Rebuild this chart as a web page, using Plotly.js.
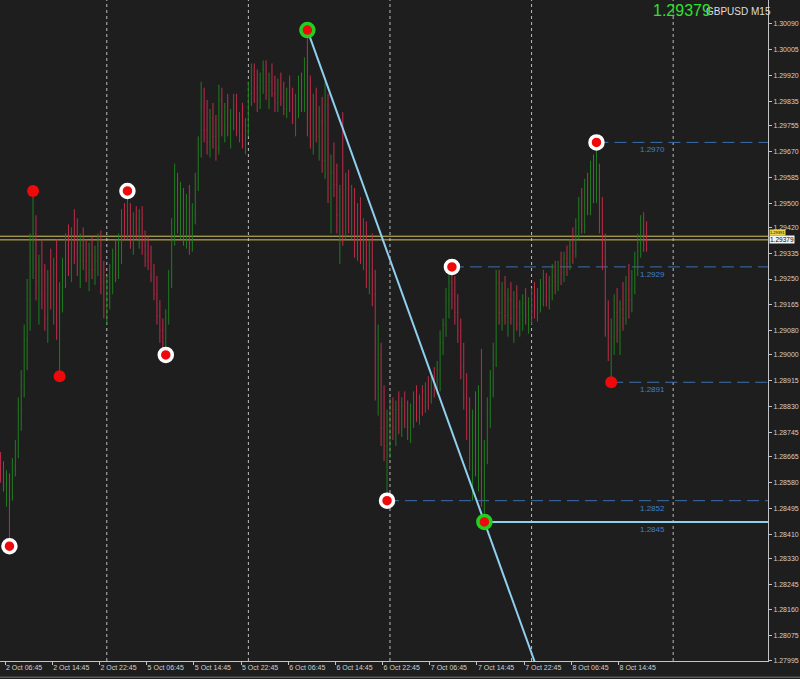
<!DOCTYPE html>
<html>
<head>
<meta charset="utf-8">
<script src="https://cdn.plot.ly/plotly-3.0.1.min.js"></script>
<style>
html,body{margin:0;padding:0;background:#1e1e1e;}
#chart{width:800px;height:679px;}
</style>
</head>
<body>
<div id="chart"></div>
<script>
// ---------------- DATA ----------------
const SYMBOL = 'GBPUSD M15';
// candles are 30-minute groups of M15 bars; bar 0 = 2 Oct 06:45
const FIRST_BAR = -3;
const BARS_PER_CANDLE = 2;

const opens = [
1.2864,1.2861,1.2857,1.2859,1.2854,1.2863,1.2870,1.2882,1.2890,1.2905,1.2918,1.2932,
1.2940,1.2924,1.2928,1.2920,1.2912,1.2925,1.2918,1.2928,1.2910,
1.2918,1.2928,1.2935,1.2930,1.2938,1.2934,1.2929,1.2936,1.2931,1.2927,1.2933,1.2928,1.2931,1.2936,1.2924,1.2916,
1.2922,1.2927,1.2932,1.2928,1.2937,1.2945,1.2942,
1.2946,1.2939,1.2944,1.2941,1.2945,1.2936,1.2933,1.2931,1.2926,1.2920,1.2913,1.2908,1.2904,
1.2912,1.2926,1.2940,1.2950,1.2945,1.2950,1.2940,1.2948,1.2937,1.2946,
1.2957,1.2968,1.2982,1.2974,1.2970,1.2978,1.2972,1.2968,1.2984,1.2976,1.2980,1.2975,1.2979,1.2982,1.2974,1.2977,1.2971,1.2974,
1.2986,1.2992,1.2988,1.2984,1.2990,1.2994,1.2987,1.2990,1.2986,1.2983,1.2989,1.2985,1.2981,1.2986,1.2982,1.2979,1.2984,1.2989,1.2983,1.2995,
1.2978,1.2974,1.2980,1.2972,1.2977,1.2964,1.2982,1.2955,1.2960,1.2956,1.2946,1.2952,1.2942,1.2955,1.2945,1.2950,1.2936,1.2946,1.2934,1.2940,1.2925,1.2933,1.2920,1.2892,1.2900,1.2876,1.2870,
1.2878,1.2882,1.2876,1.2882,1.2878,1.2883,1.2879,1.2876,1.2881,1.2884,1.2880,1.2885,1.2883,1.2888,1.2886,1.2891,1.2889,1.2895,1.2904,1.2910,1.2918,1.2924,
1.2920,1.2914,1.2908,1.2896,1.2886,1.2878,1.2868,1.2876,1.2865,1.2884,1.2858,
1.2868,1.2880,1.2892,1.2900,1.2924,1.2914,1.2920,1.2913,1.2918,1.2912,1.2916,1.2910,1.2914,1.2917,1.2913,1.2916,
1.2919,1.2916,1.2919,1.2921,1.2924,1.2919,1.2923,1.2926,1.2924,1.2929,1.2927,1.2932,1.2930,1.2936,1.2934,1.2942,1.2947,1.2943,1.2954,1.2950,1.2960,1.2956,
1.2958,1.2946,1.2932,1.2910,1.2902,1.2906,1.2914,1.2908,1.2915,1.2912,1.2922,1.2918,1.2925,1.2931,1.2937,1.2942,1.2940
];
const highs = [
1.2868,1.2865,1.2862,1.2861,1.2866,1.2872,1.2886,1.2895,1.2910,1.2925,1.2940,1.2954,
1.2946,1.2933,1.2938,1.2930,1.2928,1.2935,1.2932,1.2938,1.2924,
1.2932,1.2940,1.2943,1.2942,1.2948,1.2945,1.2940,1.2942,1.2938,1.2937,1.2939,1.2936,1.2940,1.2941,1.2931,1.2926,
1.2930,1.2935,1.2938,1.2940,1.2948,1.2950,1.2954,
1.2950,1.2947,1.2949,1.2948,1.2949,1.2941,1.2939,1.2936,1.2930,1.2926,1.2918,1.2912,1.2915,
1.2928,1.2945,1.2963,1.2960,1.2957,1.2955,1.2953,1.2956,1.2950,1.2960,
1.2972,1.2990,1.2988,1.2984,1.2981,1.2983,1.2979,1.2989,1.2988,1.2983,1.2986,1.2981,1.2986,1.2986,1.2980,1.2983,1.2978,1.2990,
1.2996,1.2996,1.2994,1.2993,1.2997,1.2997,1.2993,1.2996,1.2992,1.2991,1.2993,1.2990,1.2988,1.2992,1.2988,1.2986,1.2992,1.2993,1.2998,1.3007,
1.2992,1.2986,1.2988,1.2982,1.2985,1.2990,1.2986,1.2966,1.2970,1.2963,1.2956,1.2980,1.2960,1.2961,1.2956,1.2955,1.2950,1.2952,1.2945,1.2944,1.2938,1.2940,1.2928,1.2910,1.2904,1.2890,1.2882,
1.2886,1.2886,1.2885,1.2888,1.2886,1.2888,1.2885,1.2884,1.2888,1.2890,1.2887,1.2890,1.2891,1.2893,1.2894,1.2896,1.2898,1.2908,1.2912,1.2922,1.2927,1.2929,
1.2926,1.2920,1.2912,1.2904,1.2894,1.2886,1.2882,1.2888,1.2890,1.2902,1.2872,
1.2886,1.2895,1.2904,1.2928,1.2928,1.2924,1.2926,1.2922,1.2924,1.2921,1.2923,1.2918,1.2920,1.2922,1.2919,1.2922,
1.2924,1.2922,1.2925,1.2928,1.2927,1.2926,1.2930,1.2931,1.2931,1.2934,1.2934,1.2936,1.2938,1.2942,1.2945,1.2952,1.2955,1.2958,1.2960,1.2964,1.2966,1.2970,
1.2963,1.2952,1.2940,1.2918,1.2912,1.2920,1.2922,1.2918,1.2924,1.2926,1.2930,1.2928,1.2934,1.2940,1.2946,1.2947,1.2944
];
const lows = [
1.2858,1.2855,1.2850,1.2837,1.2852,1.2860,1.2866,1.2875,1.2886,1.2895,1.2908,1.2925,
1.2918,1.2910,1.2915,1.2908,1.2904,1.2915,1.2910,1.2905,1.2893,
1.2914,1.2922,1.2926,1.2924,1.2930,1.2926,1.2922,1.2928,1.2924,1.2921,1.2925,1.2923,1.2926,1.2920,1.2912,1.2910,
1.2915,1.2920,1.2924,1.2925,1.2930,1.2938,1.2938,
1.2935,1.2933,1.2938,1.2935,1.2933,1.2929,1.2928,1.2924,1.2918,1.2910,1.2904,1.2900,1.2900,
1.2910,1.2922,1.2936,1.2940,1.2938,1.2936,1.2935,1.2933,1.2934,1.2943,
1.2954,1.2965,1.2970,1.2966,1.2965,1.2968,1.2964,1.2966,1.2972,1.2970,1.2972,1.2968,1.2974,1.2972,1.2970,1.2968,1.2966,1.2972,
1.2982,1.2983,1.2980,1.2981,1.2986,1.2984,1.2981,1.2985,1.2980,1.2980,1.2982,1.2979,1.2978,1.2980,1.2976,1.2972,1.2978,1.2980,1.2980,1.2972,
1.2968,1.2966,1.2970,1.2964,1.2960,1.2958,1.2950,1.2940,1.2952,1.2940,1.2930,1.2936,1.2938,1.2940,1.2938,1.2932,1.2931,1.2930,1.2928,1.2922,1.2920,1.2916,1.2885,1.2880,1.2870,1.2865,1.2852,
1.2866,1.2872,1.2870,1.2874,1.2873,1.2876,1.2872,1.2871,1.2876,1.2878,1.2877,1.2880,1.2881,1.2882,1.2884,1.2886,1.2887,1.2888,1.2900,1.2906,1.2912,1.2915,
1.2910,1.2904,1.2892,1.2882,1.2872,1.2862,1.2852,1.2860,1.2855,1.2850,1.2845,
1.2864,1.2876,1.2886,1.2896,1.2910,1.2908,1.2910,1.2906,1.2910,1.2904,1.2908,1.2906,1.2908,1.2910,1.2907,1.2910,
1.2912,1.2911,1.2914,1.2916,1.2916,1.2915,1.2918,1.2920,1.2921,1.2923,1.2924,1.2926,1.2928,1.2930,1.2932,1.2938,1.2940,1.2940,1.2946,1.2946,1.2950,1.2950,
1.2940,1.2928,1.2906,1.2898,1.2891,1.2900,1.2904,1.2900,1.2908,1.2910,1.2912,1.2914,1.2920,1.2926,1.2932,1.2934,1.2934
];
const closes = [
1.2861,1.2857,1.2859,1.2854,1.2863,1.2870,1.2882,1.2890,1.2905,1.2918,1.2932,1.2940,
1.2924,1.2928,1.2920,1.2912,1.2925,1.2918,1.2928,1.2910,1.2918,
1.2928,1.2935,1.2930,1.2938,1.2934,1.2929,1.2936,1.2931,1.2927,1.2933,1.2928,1.2931,1.2936,1.2924,1.2916,1.2922,
1.2927,1.2932,1.2928,1.2937,1.2945,1.2942,1.2946,
1.2939,1.2944,1.2941,1.2945,1.2936,1.2933,1.2931,1.2926,1.2920,1.2913,1.2908,1.2904,1.2912,
1.2926,1.2940,1.2950,1.2945,1.2950,1.2940,1.2948,1.2937,1.2946,1.2957,
1.2968,1.2982,1.2974,1.2970,1.2978,1.2972,1.2968,1.2984,1.2976,1.2980,1.2975,1.2979,1.2982,1.2974,1.2977,1.2971,1.2974,1.2986,
1.2992,1.2988,1.2984,1.2990,1.2994,1.2987,1.2990,1.2986,1.2983,1.2989,1.2985,1.2981,1.2986,1.2982,1.2979,1.2984,1.2989,1.2983,1.2995,1.2978,
1.2974,1.2980,1.2972,1.2977,1.2964,1.2982,1.2955,1.2960,1.2956,1.2946,1.2952,1.2942,1.2955,1.2945,1.2950,1.2936,1.2946,1.2934,1.2940,1.2925,1.2933,1.2920,1.2892,1.2900,1.2876,1.2870,1.2878,
1.2882,1.2876,1.2882,1.2878,1.2883,1.2879,1.2876,1.2881,1.2884,1.2880,1.2885,1.2883,1.2888,1.2886,1.2891,1.2889,1.2895,1.2904,1.2910,1.2918,1.2924,1.2920,
1.2914,1.2908,1.2896,1.2886,1.2878,1.2868,1.2876,1.2865,1.2884,1.2858,1.2868,
1.2880,1.2892,1.2900,1.2924,1.2914,1.2920,1.2913,1.2918,1.2912,1.2916,1.2910,1.2914,1.2917,1.2913,1.2916,1.2919,
1.2916,1.2919,1.2921,1.2924,1.2919,1.2923,1.2926,1.2924,1.2929,1.2927,1.2932,1.2930,1.2936,1.2934,1.2942,1.2947,1.2943,1.2954,1.2950,1.2960,1.2956,1.2958,
1.2946,1.2932,1.2910,1.2902,1.2906,1.2914,1.2908,1.2915,1.2912,1.2922,1.2918,1.2925,1.2931,1.2937,1.2942,1.2940,1.29379
];

// time axis labels (every 32 M15 bars)
const tickLabels = ['2 Oct 06:45','2 Oct 14:45','2 Oct 22:45','5 Oct 06:45','5 Oct 14:45','5 Oct 22:45',
  '6 Oct 06:45','6 Oct 14:45','6 Oct 22:45','7 Oct 06:45','7 Oct 14:45','7 Oct 22:45','8 Oct 06:45','8 Oct 14:45'];
const TICK_EVERY_BARS = 32;
// day separators (M15 bar index of each midnight)
const midnightBars = [69, 165, 261, 357, 453];

// price scale labels
const priceLabels = [1.30090,1.30005,1.29920,1.29835,1.29755,1.29670,1.29585,1.29500,1.29420,1.29335,
  1.29250,1.29165,1.29080,1.29000,1.28915,1.28830,1.28745,1.28665,1.28580,1.28495,1.28410,1.28330,
  1.28245,1.28160,1.28075,1.27995];
const bidPrice = 1.29379;
const askPrice = 1.29391;

// swing points (candle numbers + side)
const zigzagCandles = [3, 43, 56, 131, 153, 202];
const zigzagSides   = ['L','H','L','L','H','H'];
const fractalCandles = [11, 20, 207];
const fractalSides   = ['H','L','L'];
const trendCandles = [104, 164];
const trendSides   = ['H','L'];
// dashed levels
const levelCandles = [202, 153, 207, 131];
const levelSides   = ['H','H','L','L'];

// ---------------- BUILD ----------------
const X_MIN = -3.4, X_MAX = 517.3;
const Y_MIN = 1.27992, Y_MAX = 1.30169;
const FONT = 'Liberation Sans, Arial';

const barOf = k => FIRST_BAR + BARS_PER_CANDLE * k;
const priceOf = (k, s) => s === 'H' ? highs[k] : lows[k];
const xs = opens.map((_, k) => barOf(k));

const RED = '#ee0a0a';
const candles = {
  type: 'ohlc', x: xs, open: opens, high: highs, low: lows, close: closes,
  increasing: {line: {color: '#1f7d1f', width: 1}},
  decreasing: {line: {color: '#c02c4a', width: 1}},
  tickwidth: 0.15, hoverinfo: 'skip', showlegend: false
};

// trend line (ray) through the two trend points
const tx0 = barOf(trendCandles[0]), ty0 = priceOf(trendCandles[0], trendSides[0]);
const tx1 = barOf(trendCandles[1]), ty1 = priceOf(trendCandles[1], trendSides[1]);
const yEnd = Y_MIN - 0.001;
const xEnd = tx0 + (yEnd - ty0) * (tx1 - tx0) / (ty1 - ty0);
const trend = {type: 'scatter', mode: 'lines', x: [tx0, xEnd], y: [ty0, yEnd],
  line: {color: '#8fd0ee', width: 2}, hoverinfo: 'skip', showlegend: false};
const support = {type: 'scatter', mode: 'lines', x: [tx1, X_MAX], y: [ty1, ty1],
  line: {color: '#8fd0ee', width: 2}, hoverinfo: 'skip', showlegend: false};

const mk = (cands, sides, opts) => Object.assign({
  type: 'scatter', mode: 'markers',
  x: cands.map(barOf), y: cands.map((k, i) => priceOf(k, sides[i])),
  hoverinfo: 'skip', showlegend: false, cliponaxis: false
}, opts);
const zigzagMarkers = mk(zigzagCandles, zigzagSides,
  {marker: {size: 13, color: RED, line: {color: '#ffffff', width: 3.5}}});
const fractalMarkers = mk(fractalCandles, fractalSides,
  {marker: {size: 12, color: RED, line: {width: 0}}});
const trendMarkers = mk(trendCandles, trendSides,
  {marker: {size: 13, color: RED, line: {color: '#22d022', width: 3.5}}});

const shapes = [];
midnightBars.forEach(b => shapes.push({type: 'line', xref: 'x', yref: 'paper', x0: b, x1: b, y0: 0, y1: 1,
  line: {color: '#bdbdbd', width: 1, dash: 'dot'}, layer: 'below'}));
[bidPrice, askPrice].forEach(p => shapes.push({type: 'line', xref: 'paper', yref: 'y', x0: 0, x1: 1, y0: p, y1: p,
  line: {color: '#d6c45a', width: 1}, layer: 'below'}));
const annotations = [];
levelCandles.forEach((k, i) => {
  const p = priceOf(k, levelSides[i]);
  shapes.push({type: 'line', xref: 'x', yref: 'y', x0: barOf(k), x1: X_MAX, y0: p, y1: p,
    line: {color: '#3b6fae', width: 1, dash: '12px,6px'}, layer: 'below'});
  annotations.push({xref: 'paper', yref: 'y', x: 0.831, y: p, xanchor: 'left', yanchor: 'top', yshift: -1,
    text: p.toFixed(4), showarrow: false, font: {family: FONT, size: 8, color: '#3f80cc'}});
});
annotations.push({xref: 'paper', yref: 'y', x: 0.831, y: ty1, xanchor: 'left', yanchor: 'top', yshift: -1,
  text: ty1.toFixed(4), showarrow: false, font: {family: FONT, size: 8, color: '#3f80cc'}});
// bottom window border
shapes.push({type: 'line', xref: 'paper', yref: 'paper', x0: 0, x1: 1.042, y0: -0.0245, y1: -0.0245,
  line: {color: '#777777', width: 1}});

// right-scale price tags (ask tag squeezed between the 1.29420 label and the bid tag)
annotations.push({xref: 'paper', yref: 'y', x: 1, y: bidPrice, xanchor: 'left', yanchor: 'bottom', xshift: 1, yshift: 4,
  text: askPrice.toFixed(5), showarrow: false, bgcolor: '#e6d24a', borderpad: 0,
  font: {family: FONT, size: 4, color: '#000000'}});
annotations.push({xref: 'paper', yref: 'y', x: 1, y: bidPrice, xanchor: 'left', yanchor: 'middle', xshift: 1,
  text: bidPrice.toFixed(5), showarrow: false, bgcolor: '#f4f4f4', borderpad: 0,
  font: {family: FONT, size: 6.5, color: '#000000'}});
// symbol + big price
annotations.push({xref: 'paper', yref: 'paper', x: 0.917, y: 1, xanchor: 'left', yanchor: 'top', yshift: -4,
  text: SYMBOL, showarrow: false, font: {family: FONT, size: 10, color: '#dedede'}});
annotations.push({xref: 'paper', yref: 'paper', x: 0.848, y: 1, xanchor: 'left', yanchor: 'top', yshift: 0,
  text: closes[closes.length - 1].toFixed(5), showarrow: false,
  font: {family: FONT, size: 16, color: '#2ee02e'}});

const layout = {
  width: 800, height: 679,
  margin: {l: 0, r: 32, t: 0, b: 18, pad: 0},
  paper_bgcolor: '#1e1e1e', plot_bgcolor: '#1e1e1e',
  showlegend: false, hovermode: false,
  xaxis: {
    range: [X_MIN, X_MAX], fixedrange: true, rangeslider: {visible: false},
    showgrid: false, zeroline: false, showline: true, linecolor: '#c4c4c4', linewidth: 1,
    tickmode: 'array', tickvals: tickLabels.map((_, i) => i * TICK_EVERY_BARS), ticktext: tickLabels,
    ticks: 'outside', ticklen: 3, tickcolor: '#c4c4c4', ticklabelposition: 'outside right',
    tickfont: {family: FONT, size: 7, color: '#d0d0d0'}
  },
  yaxis: {
    side: 'right', range: [Y_MIN, Y_MAX], fixedrange: true,
    showgrid: false, zeroline: false, showline: true, linecolor: '#c4c4c4', linewidth: 1,
    tickmode: 'array', tickvals: priceLabels, ticktext: priceLabels.map(v => v.toFixed(5)),
    ticks: 'outside', ticklen: 3, tickcolor: '#c4c4c4',
    tickfont: {family: FONT, size: 7, color: '#d0d0d0'}
  },
  shapes: shapes,
  annotations: annotations
};

Plotly.newPlot('chart', [candles, trend, support, zigzagMarkers, fractalMarkers, trendMarkers], layout,
  {staticPlot: true, displayModeBar: false});
</script>
</body>
</html>
